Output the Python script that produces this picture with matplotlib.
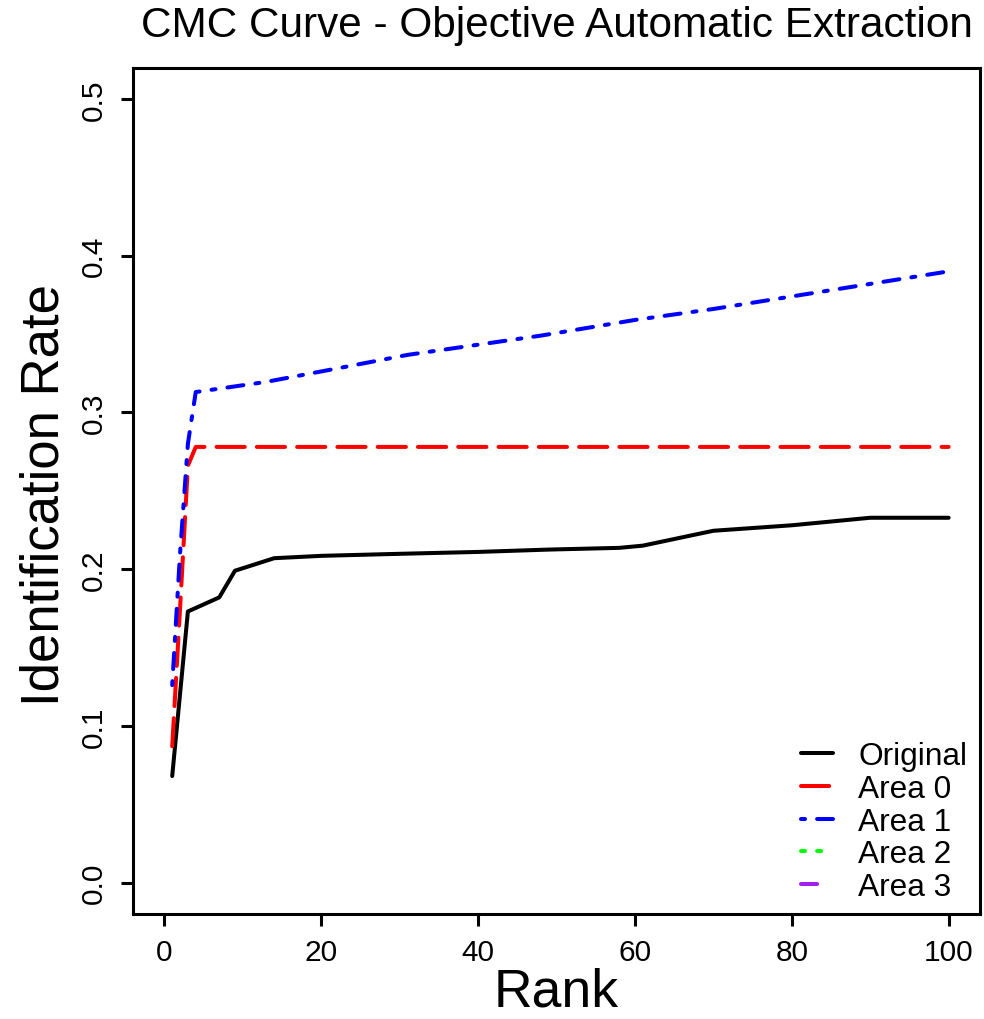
import matplotlib
matplotlib.use("Agg")
import matplotlib.pyplot as plt

plt.rcParams['font.family'] = ['Liberation Sans', 'DejaVu Sans']

# CMC data
rank_orig = [1, 3, 7, 9, 14, 20, 30, 40, 49, 58, 61, 70, 80, 90, 100]
rate_orig = [0.068, 0.173, 0.182, 0.199, 0.207, 0.2085, 0.2098, 0.211, 0.2125,
             0.2136, 0.215, 0.2245, 0.228, 0.2328, 0.2328]

rank_area0 = [1, 2, 3, 4, 100]
rate_area0 = [0.087, 0.175, 0.266, 0.278, 0.278]

rank_area1 = [1, 2, 3, 4, 13, 23, 31, 48, 60, 70, 78, 90, 100]
rate_area1 = [0.126, 0.21, 0.28, 0.313, 0.3195, 0.329, 0.3367, 0.349,
              0.359, 0.366, 0.3724, 0.382, 0.390]

rank_area2, rate_area2 = [], []
rank_area3, rate_area3 = [], []

labels = ["Original", "Area 0", "Area 1", "Area 2", "Area 3"]
colors = ["black", "#FF0000", "#0000FF", "#00FF00", "#A020F0"]
dashes = [None, (7, 3), (1, 3, 4, 3), (1, 3), (4, 4)]

xticks = [0, 20, 40, 60, 80, 100]
yticks = [0.0, 0.1, 0.2, 0.3, 0.4, 0.5]

fig = plt.figure(figsize=(9.84, 10.2), dpi=100)
ax = fig.add_axes([133/984, 1 - 915/1020, (980-133)/984, (915-68.6)/1020])

lw = 2.9
series = [(rank_orig, rate_orig), (rank_area0, rate_area0), (rank_area1, rate_area1),
          (rank_area2, rate_area2), (rank_area3, rate_area3)]
handles = []
for (x, y), lab, c, d in zip(series, labels, colors, dashes):
    line, = ax.plot(x, y, color=c, lw=lw, label=lab, solid_capstyle='round',
                    dash_capstyle='round', solid_joinstyle='round')
    if d is not None:
        line.set_dashes(d)
    handles.append(line)

ax.set_xlim(-4, 104)
ax.set_ylim(-0.02, 0.52)
ax.set_xticks(xticks)
ax.set_xticklabels([str(t) for t in xticks])
ax.set_yticks(yticks)
ax.set_yticklabels([f"{t:.1f}" for t in yticks])

for s in ax.spines.values():
    s.set_linewidth(2.2)
ax.tick_params(axis='both', length=8.6, width=2.2, direction='out')
ax.tick_params(axis='x', labelsize=21.5, pad=9)
ax.tick_params(axis='y', labelsize=21.5, pad=9.5, labelrotation=90)
for lbl in ax.get_yticklabels():
    lbl.set_va('center')

ax.set_xlabel("Rank", fontsize=38.5, va='center')
ax.xaxis.set_label_coords(0.5, -0.092)
ax.set_ylabel("Identification Rate", fontsize=38, va='center')
ax.yaxis.set_label_coords(-0.105, 0.496)
ax.set_title("CMC Curve - Objective Automatic Extraction", fontsize=30.4,
             y=1.041, va='center')

ax.legend(handles=handles, loc='lower right', frameon=False, fontsize=22.8,
          bbox_to_anchor=(983/984, (1020-919)/1020), bbox_transform=fig.transFigure,
          borderpad=0, labelspacing=0.085, handlelength=1.0, handletextpad=0.8)

fig.savefig("out.png", dpi=100)
